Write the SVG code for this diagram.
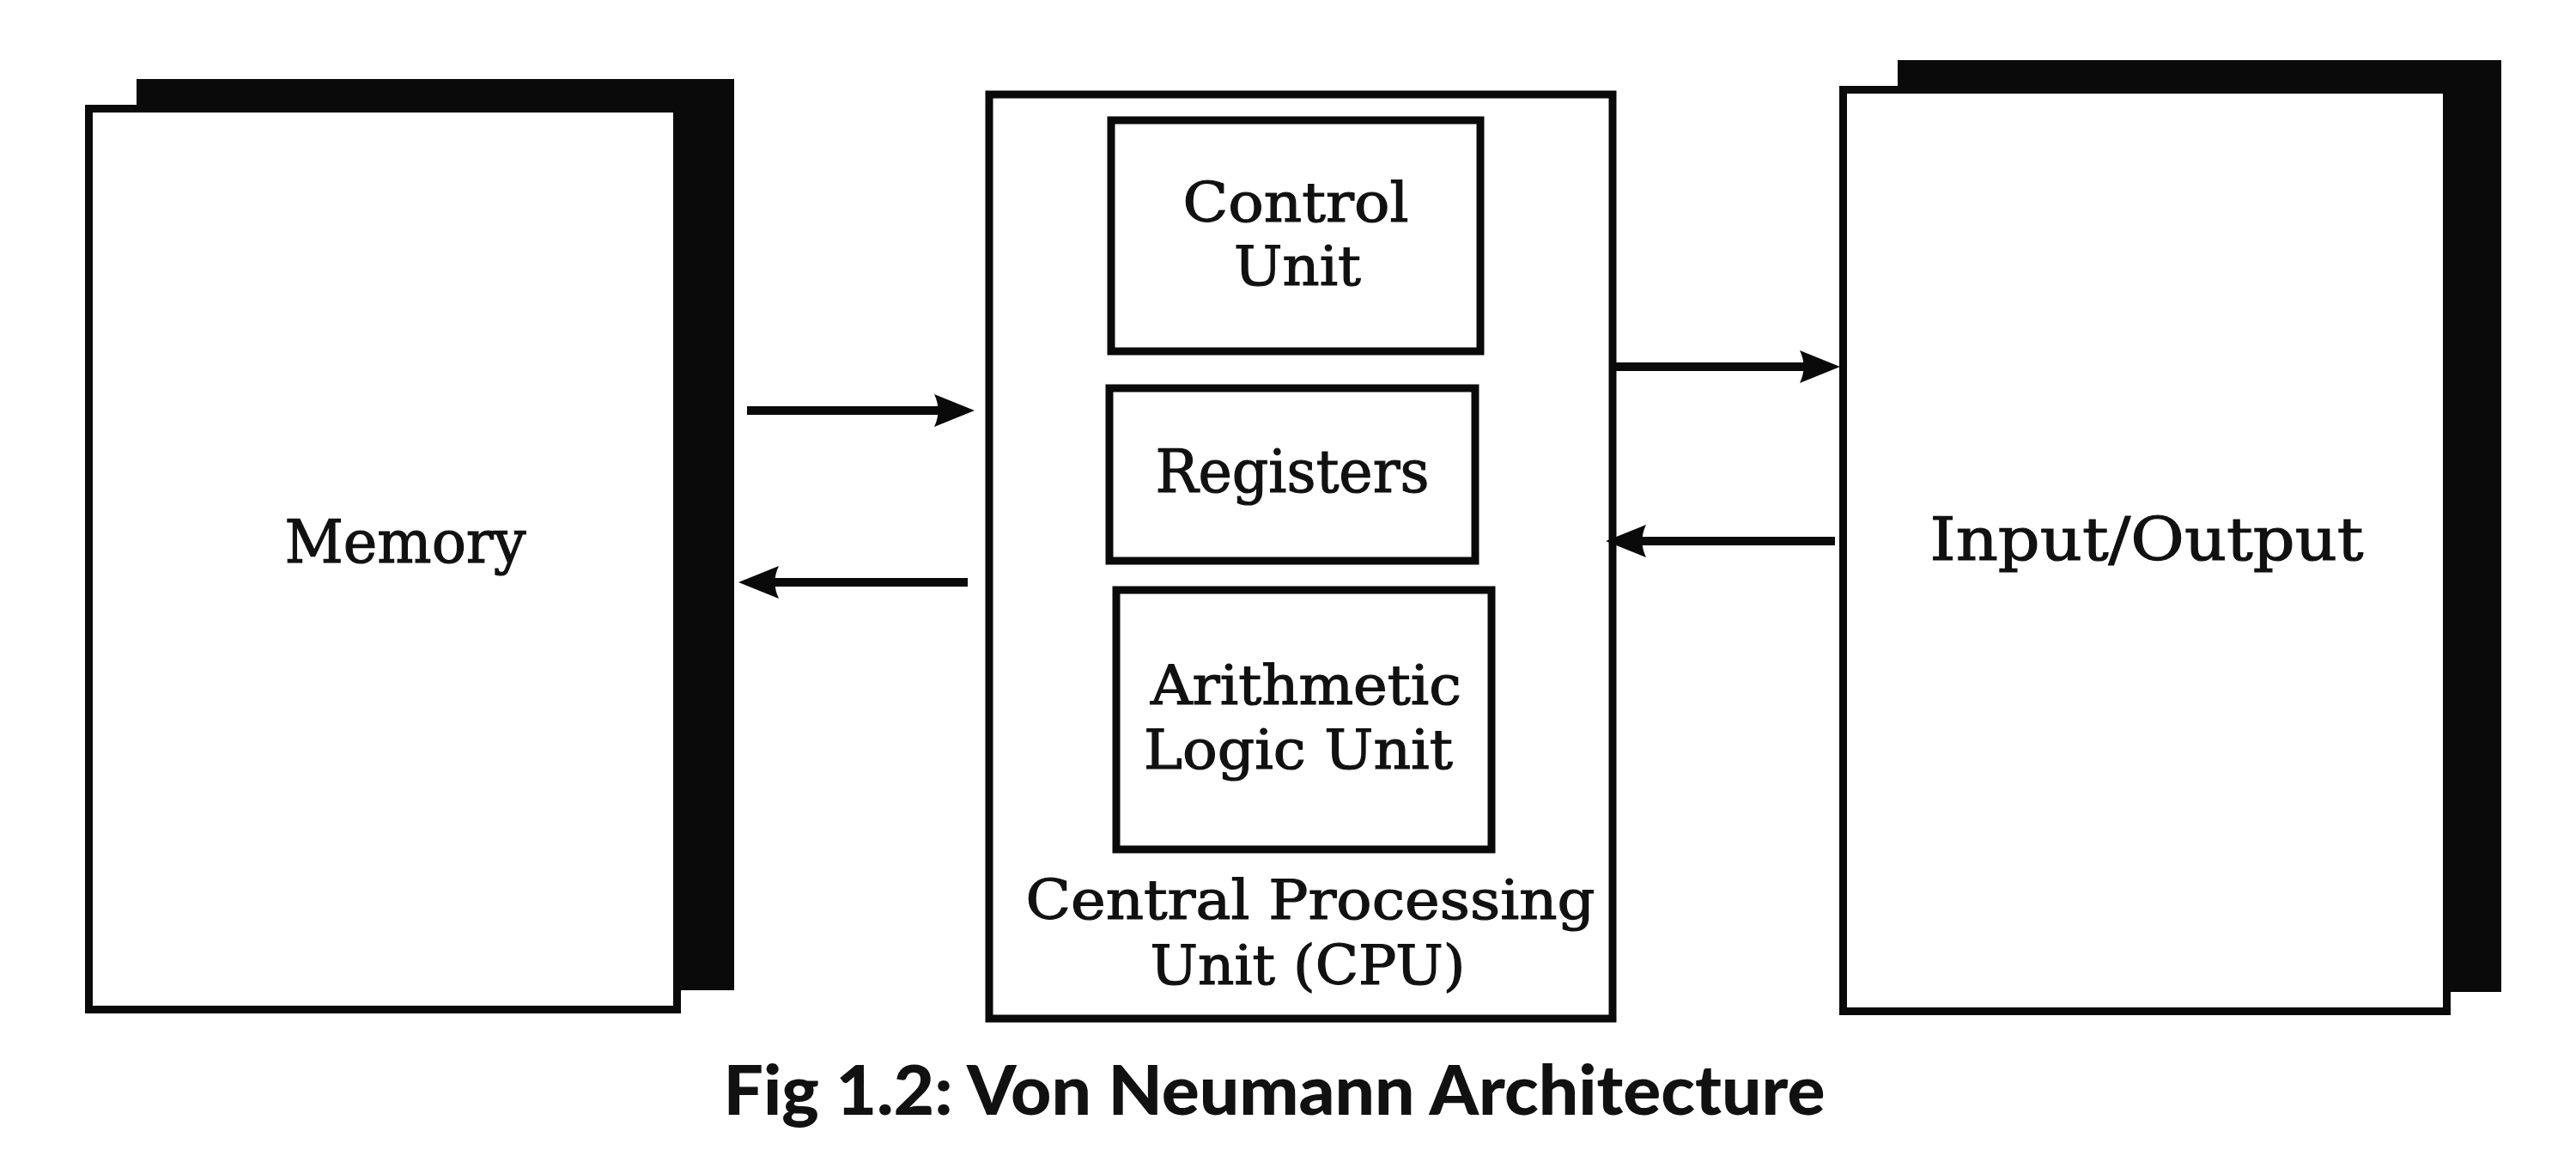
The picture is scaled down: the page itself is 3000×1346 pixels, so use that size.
<svg xmlns="http://www.w3.org/2000/svg" width="3000" height="1346" viewBox="0 0 3000 1346">
  <style>
    .shadow { fill: #0a0a0a; stroke: none; }
    .box { fill: #ffffff; stroke: #0a0a0a; stroke-width: 9; }
    .t { font-family: "DejaVu Serif", "Liberation Serif", serif; font-size: 70px; fill: #111111; stroke: #111111; stroke-width: 1.2; text-anchor: middle; }
    .t2 { font-size: 63px; }
    .cap { font-family: "Lato", "Liberation Sans", sans-serif; font-weight: 900; font-size: 80px; fill: #111111; text-anchor: middle; }
    .conn { stroke: #0a0a0a; stroke-width: 10; fill: none; marker-end: url(#arrow); }
  </style>
  <defs>
    <marker id="arrow" viewBox="-50 -22 52 44" refX="-25" refY="0" markerWidth="52" markerHeight="44" markerUnits="userSpaceOnUse" orient="auto">
      <path d="M0,0 L-47,-19 Q-38,0 -47,19 Z" fill="#0a0a0a"/>
    </marker>
  </defs>
  <rect width="3000" height="1346" fill="#ffffff"/>

  <g id="memory">
    <rect class="shadow" x="159" y="92" width="696" height="1061"/>
    <rect class="box" x="103.5" y="126.5" width="685" height="1049"/>
    <text class="t" x="472" y="655" textLength="281" lengthAdjust="spacingAndGlyphs">Memory</text>
  </g>

  <g id="cpu">
    <rect class="box" x="1152" y="110" width="726" height="1076"/>
    <text class="t t2" x="1526" y="1070" textLength="663" lengthAdjust="spacingAndGlyphs">Central Processing</text>
    <text class="t t2" x="1523" y="1146" textLength="367" lengthAdjust="spacingAndGlyphs">Unit (CPU)</text>
  </g>

  <g id="control-unit">
    <rect class="box" x="1294" y="140" width="430" height="269"/>
    <text class="t t2" x="1509" y="258" textLength="263" lengthAdjust="spacingAndGlyphs">Control</text>
    <text class="t t2" x="1511" y="332" textLength="148" lengthAdjust="spacingAndGlyphs">Unit</text>
  </g>

  <g id="registers">
    <rect class="box" x="1292" y="452" width="426" height="201"/>
    <text class="t" x="1505" y="573" textLength="319" lengthAdjust="spacingAndGlyphs">Registers</text>
  </g>

  <g id="alu">
    <rect class="box" x="1300" y="687" width="437" height="302"/>
    <text class="t t2" x="1521" y="820" textLength="362" lengthAdjust="spacingAndGlyphs">Arithmetic</text>
    <text class="t t2" x="1512" y="895" textLength="360" lengthAdjust="spacingAndGlyphs">Logic Unit</text>
  </g>

  <g id="input-output">
    <rect class="shadow" x="2210" y="70" width="703" height="1085"/>
    <rect class="box" x="2146.5" y="104.5" width="703" height="1073"/>
    <text class="t" x="2500" y="652" textLength="505" lengthAdjust="spacingAndGlyphs">Input/Output</text>
  </g>

  <g id="connectors">
    <line class="conn" x1="870" y1="478" x2="1110" y2="478"/>
    <line class="conn" x1="1127" y1="678" x2="885" y2="678"/>
    <line class="conn" x1="1880" y1="427" x2="2118" y2="427"/>
    <line class="conn" x1="2137" y1="630" x2="1895" y2="630"/>
  </g>

  <g id="caption">
    <text class="cap" x="1484" y="1298" textLength="1283" lengthAdjust="spacingAndGlyphs">Fig 1.2: Von Neumann Architecture</text>
  </g>
</svg>
